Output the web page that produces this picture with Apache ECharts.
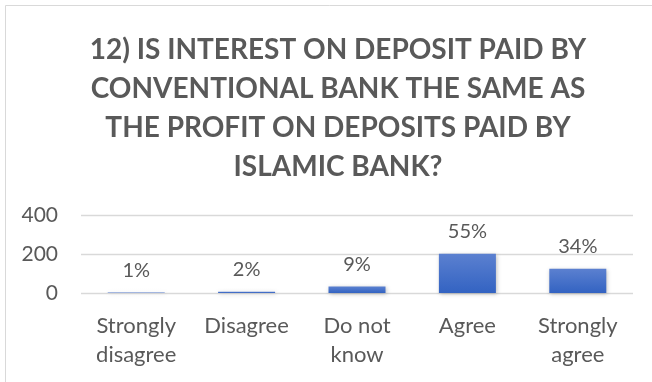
<!DOCTYPE html>
<html>
<head>
<meta charset="utf-8">
<script src="https://cdn.jsdelivr.net/npm/echarts@6/dist/echarts.min.js"></script>
<style>
  html, body { margin: 0; padding: 0; background: #ffffff; }
  #chart { width: 652px; height: 382px; }
</style>
</head>
<body>
<div id="chart"></div>
<script>
// Survey responses for question 12
const categories = ['Strongly\ndisagree', 'Disagree', 'Do not\nknow', 'Agree', 'Strongly\nagree'];
const counts = [3, 7, 33, 201, 124];
const percentLabels = ['1%', '2%', '9%', '55%', '34%'];
const yTicks = [0, 200, 400];

const titleText = '12) IS INTEREST ON DEPOSIT PAID BY\nCONVENTIONAL BANK THE SAME AS\nTHE PROFIT ON DEPOSITS PAID BY\nISLAMIC BANK?';
const FONT = 'Lato';
const GREY = '#595959';

const chart = echarts.init(document.getElementById('chart'), null, { renderer: 'canvas' });

chart.setOption({
  animation: false,
  backgroundColor: '#ffffff',
  graphic: [{
    type: 'rect',
    shape: { x: 5.5, y: 5.5, width: 700, height: 420 },
    style: { fill: 'none', stroke: '#d9d9d9', lineWidth: 1 },
    silent: true
  }],
  title: {
    text: titleText,
    left: 333,
    top: 25,
    textAlign: 'center',
    textStyle: {
      fontFamily: FONT,
      fontSize: 28,
      fontWeight: 'bold',
      color: GREY,
      lineHeight: 39
    }
  },
  grid: { left: 81, right: 19, top: 215, bottom: 89, containLabel: false },
  xAxis: {
    type: 'category',
    data: categories,
    axisLine: { show: false },
    axisTick: { show: false },
    axisLabel: {
      fontFamily: FONT,
      fontSize: 22,
      color: GREY,
      lineHeight: 29,
      margin: 18,
      interval: 0
    }
  },
  yAxis: {
    type: 'value',
    min: yTicks[0],
    max: yTicks[yTicks.length - 1],
    interval: yTicks[1] - yTicks[0],
    axisLine: { show: false },
    axisTick: { show: false },
    splitLine: { lineStyle: { color: '#d9d9d9', width: 1.3 } },
    axisLabel: {
      fontFamily: FONT,
      fontSize: 21,
      color: GREY,
      margin: 23
    }
  },
  series: [{
    type: 'bar',
    data: counts,
    barWidth: 57,
    itemStyle: {
      color: new echarts.graphic.LinearGradient(0, 0, 0, 1, [
        { offset: 0, color: '#5b80d0' },
        { offset: 1, color: '#3363c2' }
      ]),
      shadowColor: 'rgba(0,0,0,0.25)',
      shadowBlur: 4,
      shadowOffsetX: 1,
      shadowOffsetY: 1
    },
    label: {
      show: true,
      position: 'top',
      distance: 12,
      fontFamily: FONT,
      fontSize: 20,
      color: GREY,
      formatter: p => percentLabels[p.dataIndex]
    }
  }]
});
</script>
</body>
</html>
